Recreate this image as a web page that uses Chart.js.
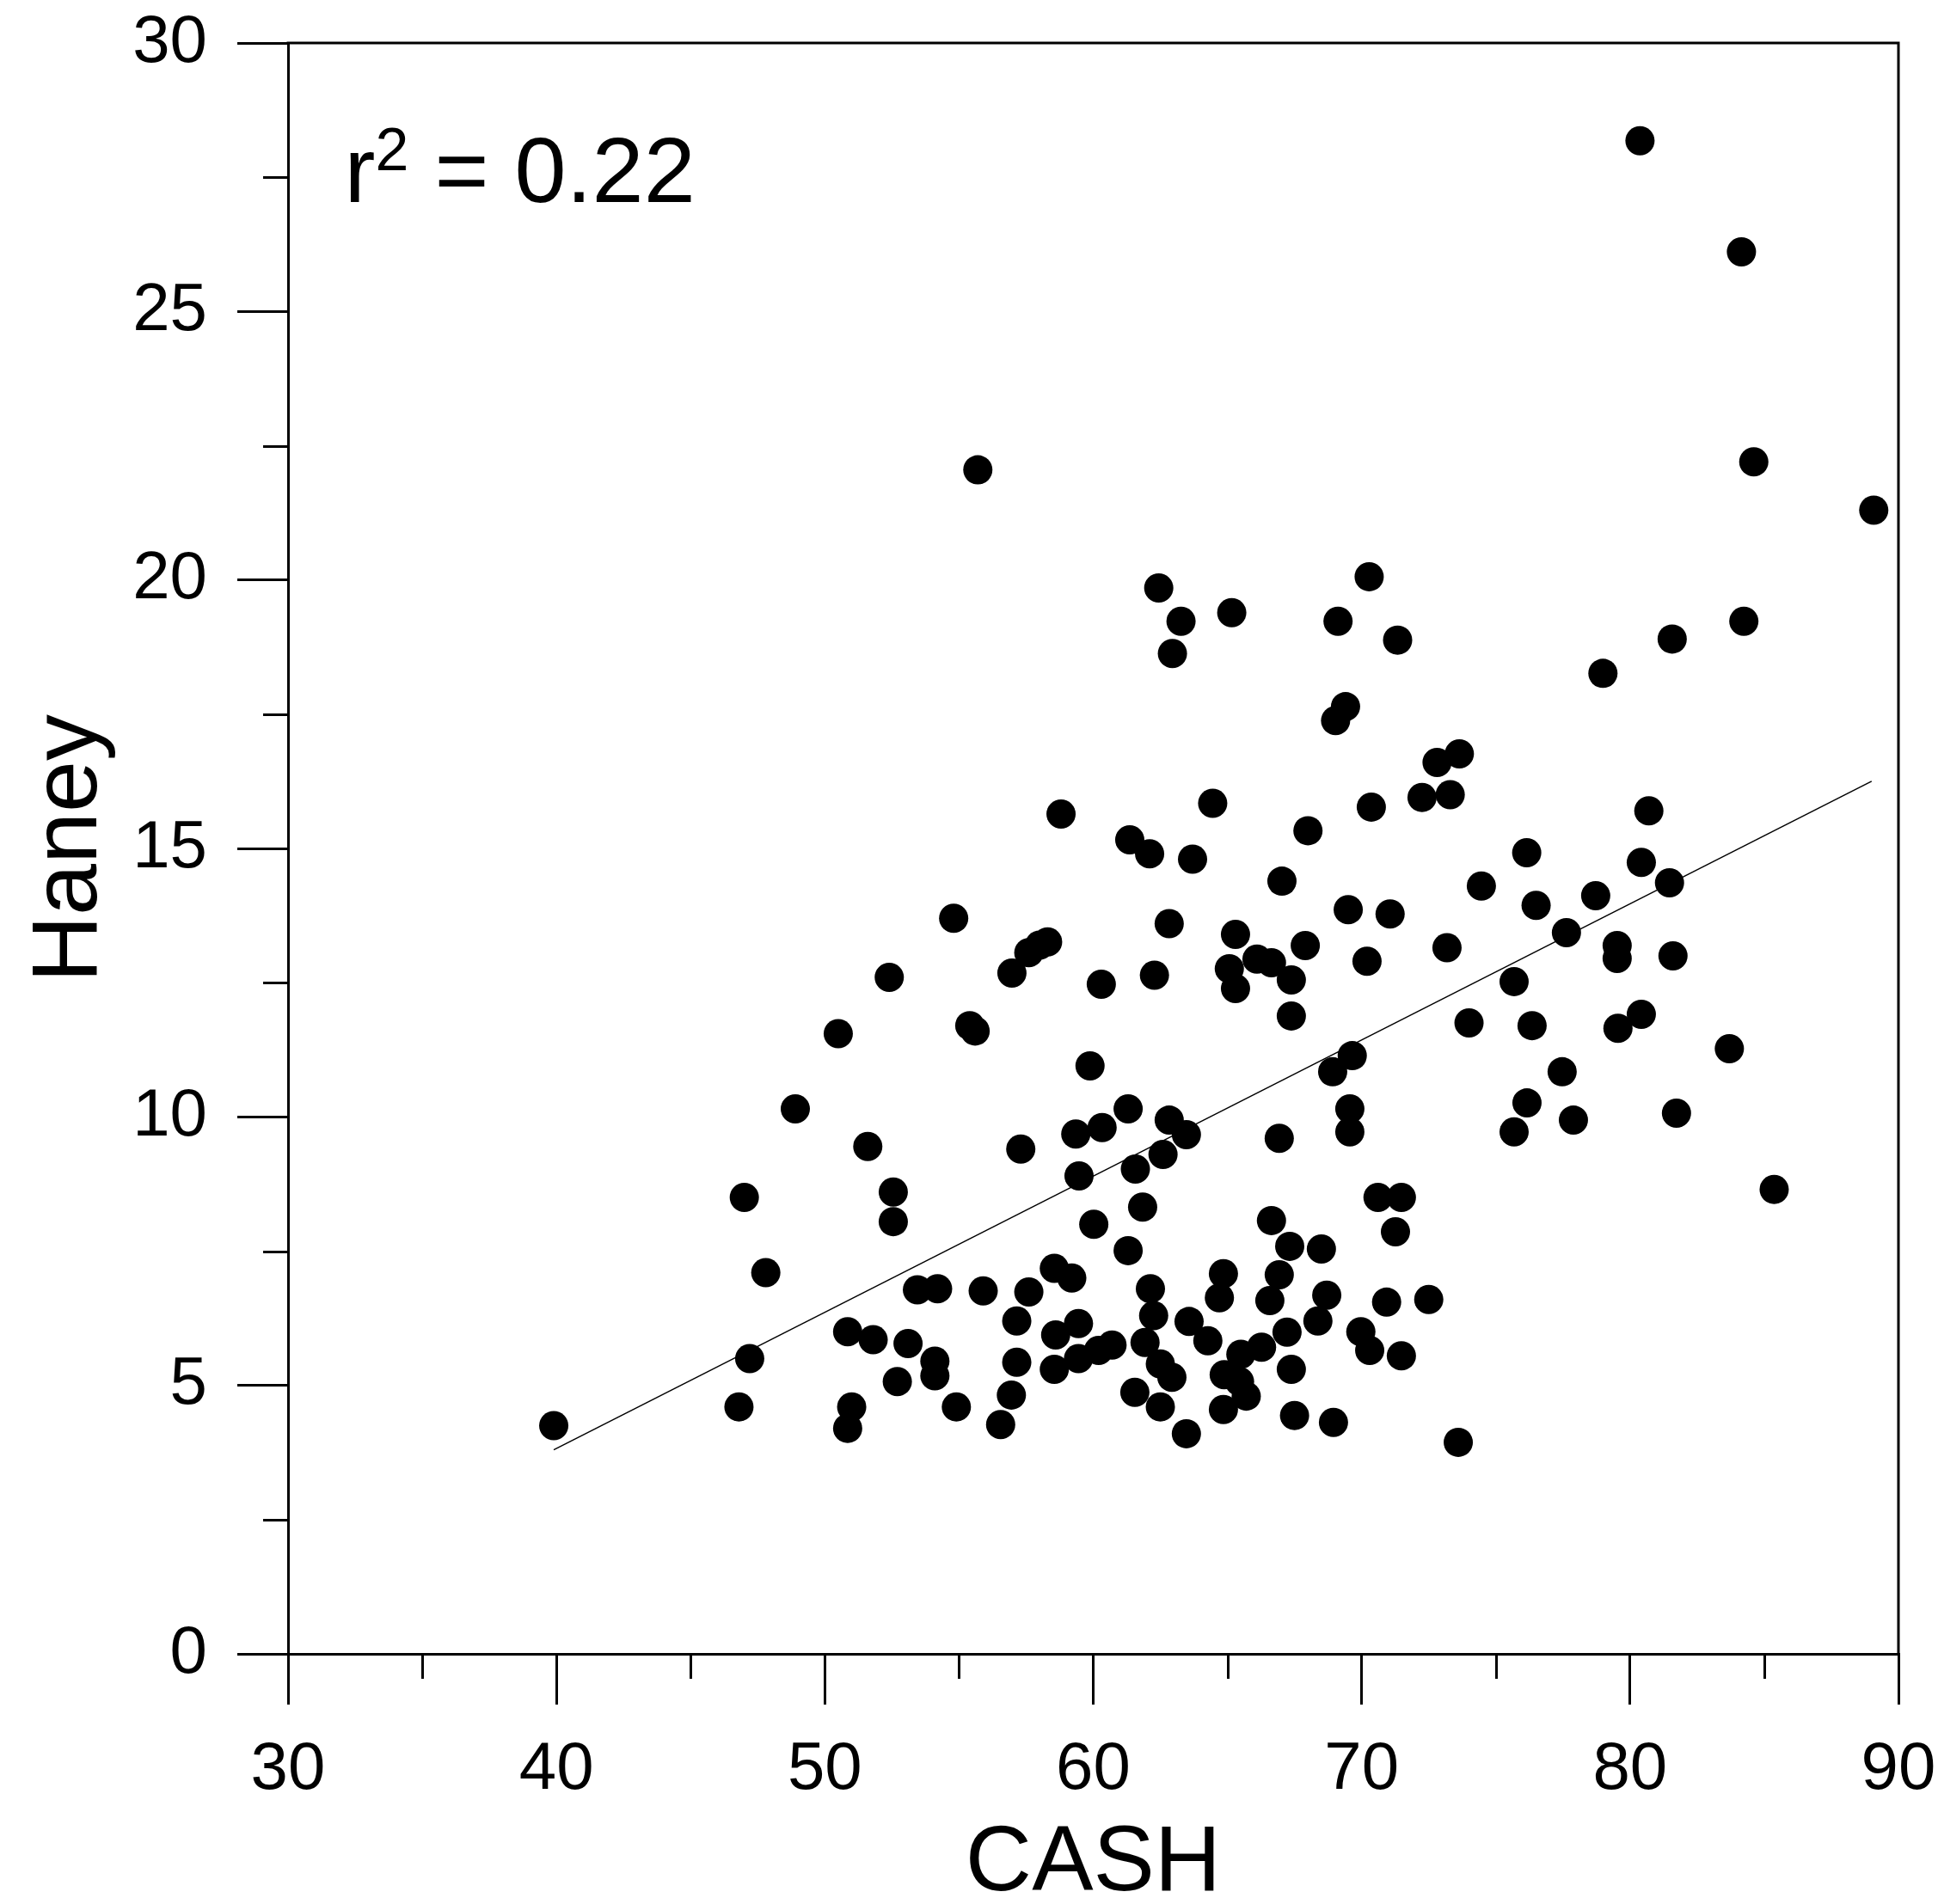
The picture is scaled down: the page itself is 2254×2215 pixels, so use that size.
<!DOCTYPE html>
<html>
<head>
<meta charset="utf-8">
<title>Haney vs CASH</title>
<script src="https://cdn.jsdelivr.net/npm/chart.js@4.4.1/dist/chart.umd.min.js"></script>
<style>
  html, body { margin: 0; padding: 0; background: #fff; }
  canvas { display: block; }
</style>
</head>
<body>
<canvas id="scatter" width="2254" height="2215"></canvas>
<script>
/* ---- data ---- */

var cashValues = [
  39.9, 46.8, 47.0, 47.2, 47.8, 48.9, 50.5, 50.85, 51.0, 50.85,
  51.6, 51.8, 52.4, 52.55, 52.55, 52.7, 53.1, 53.45, 54.2, 54.1,
  54.1, 54.8, 54.9, 55.4, 55.6, 55.7, 55.9, 56.55, 56.97, 56.95,
  57.15, 57.3, 57.15, 57.6, 57.6, 58.0, 58.3, 58.55, 58.55, 58.8,
  59.2, 58.6, 59.45, 59.35, 59.47, 59.45, 59.88, 60.02, 60.3, 60.33,
  60.2, 60.7, 61.3, 61.3, 61.36, 61.57, 61.55, 61.84, 62.1, 62.13,
  62.25, 61.93, 62.5, 62.28, 62.44, 62.6, 62.5, 62.83, 62.83, 62.95,
  62.93, 63.27, 63.47, 63.47, 63.57, 63.7, 64.27, 64.45, 65.07, 64.7,
  64.85, 64.88, 64.85, 65.16, 65.3, 65.3, 65.5, 65.45, 65.7, 66.1,
  66.27, 66.58, 66.64, 66.64, 66.93, 66.93, 67.03, 67.22, 67.38, 67.38,
  67.32, 67.38, 67.5, 67.9, 68.0, 68.5, 68.37, 68.7, 68.92, 68.95,
  69.03, 69.12, 69.4, 69.5, 69.65, 69.56, 69.56, 69.97, 70.2, 70.28,
  70.36, 70.3, 70.61, 70.93, 71.06, 71.34, 71.26, 71.48, 71.48, 72.5,
  72.25, 72.81, 73.18, 73.3, 73.64, 73.6, 74.0, 74.46, 75.68, 75.68,
  76.15, 76.16, 76.35, 76.5, 77.47, 77.63, 77.89, 78.72, 78.99, 79.55,
  79.52, 79.52, 80.37, 80.42, 80.42, 80.7, 81.47, 81.6, 81.57, 81.73,
  83.7, 84.15, 84.24, 84.61, 85.37, 89.08
];

var haneyValues = [
  4.25, 4.6, 8.5, 5.5, 7.1, 10.15, 11.55, 6.0, 4.6, 4.2,
  9.45, 5.85, 12.6, 8.6, 8.05, 5.07, 5.78, 6.78, 6.8, 5.45,
  5.18, 13.7, 4.6, 11.7, 11.6, 22.05, 6.76, 4.27, 12.68, 4.82,
  6.2, 9.4, 5.43, 6.74, 13.06, 13.2, 13.26, 7.18, 5.3, 15.64,
  7.0, 5.94, 6.15, 9.68, 8.9, 5.5, 10.95, 8.0, 12.47, 9.8,
  5.65, 5.75, 10.15, 7.51, 15.16, 9.03, 4.87, 8.32, 14.9, 6.8,
  6.3, 5.8, 5.4, 12.64, 19.85, 9.3, 4.6, 13.6, 9.94, 18.63,
  5.15, 19.23, 9.67, 4.1, 6.19, 14.8, 5.83, 15.84, 12.76, 6.63,
  7.08, 5.2, 4.55, 19.39, 12.39, 13.4, 5.58, 5.07, 4.8, 12.94,
  5.71, 6.58, 12.87, 8.07, 7.06, 9.6, 14.39, 5.99, 12.55, 5.3,
  7.59, 11.88, 4.44, 13.19, 15.33, 7.54, 6.2, 6.68, 10.84, 4.31,
  17.38, 19.23, 17.64, 13.86, 11.14, 10.15, 9.72, 6.0, 12.9, 20.06,
  15.77, 5.65, 8.5, 6.55, 13.78, 18.88, 7.86, 8.5, 5.55, 6.6,
  15.95, 16.6, 13.15, 16.0, 16.76, 3.94, 11.75, 14.3, 9.72, 12.52,
  14.92, 10.26, 11.7, 13.94, 10.84, 13.43, 9.94, 14.12, 18.26, 11.65,
  13.19, 12.95, 28.18, 11.91, 14.74, 15.7, 14.36, 13.0, 18.9, 10.07,
  11.27, 26.11, 19.23, 22.2, 8.65, 21.3
];

// end points of the fitted line
var fitCash  = [39.9, 89.0];
var fitHaney = [3.8, 16.25];

var r2Text = '0.22';

/* ---- helpers ---- */

var fontFamily = '"Liberation Sans", Arial, sans-serif';

function toPoints(xs, ys) {
  return xs.map(function (x, i) { return { x: x, y: ys[i] }; });
}

function isMajorX(v) { return v % 10 === 0; }
function isMajorY(v) { return v % 5 === 0; }

// fixed axis sizes, and no extra room for overhanging end labels
function fitX(s) {
  s.height = 291;
  s.paddingLeft = 0;
  s.paddingRight = 0;
}
function fitY(s) {
  s.width = 335;
  s.paddingTop = 0;
  s.paddingBottom = 0;
}

/* ---- plugins ---- */

// box around the plot plus the short minor ticks
var frameAndMinorTicks = {
  id: 'frameAndMinorTicks',
  afterDraw: function (chart) {
    var ctx = chart.ctx;
    var area = chart.chartArea;
    var xs = chart.scales.x;
    var ys = chart.scales.y;
    var minorLen = 29;

    ctx.save();
    ctx.strokeStyle = '#000';
    ctx.lineWidth = 3;
    ctx.lineCap = 'butt';

    ctx.beginPath();
    ctx.moveTo(area.left - 1.5, area.top);
    ctx.lineTo(area.right, area.top);
    ctx.lineTo(area.right, area.bottom + 1.5);
    ctx.stroke();

    ctx.beginPath();
    xs.ticks.forEach(function (t) {
      if (isMajorX(t.value)) return;
      var px = Math.round(xs.getPixelForValue(t.value)) + 0.5;
      ctx.moveTo(px, area.bottom);
      ctx.lineTo(px, area.bottom + minorLen);
    });
    ys.ticks.forEach(function (t) {
      if (isMajorY(t.value)) return;
      var py = Math.round(ys.getPixelForValue(t.value)) + 0.5;
      ctx.moveTo(area.left, py);
      ctx.lineTo(area.left - minorLen, py);
    });
    ctx.stroke();
    ctx.restore();
  }
};

// "r² = 0.22" in the upper left corner
var r2Label = {
  id: 'r2Label',
  afterDraw: function (chart) {
    var ctx = chart.ctx;
    var x = chart.scales.x.getPixelForValue(32.1);
    var base = chart.scales.y.getPixelForValue(27.04);

    ctx.save();
    ctx.fillStyle = '#000';
    ctx.textBaseline = 'alphabetic';
    ctx.textAlign = 'left';

    ctx.font = '108px ' + fontFamily;
    ctx.fillText('r', x, base);
    x += ctx.measureText('r').width;

    ctx.font = '70px ' + fontFamily;
    ctx.fillText('2', x, base - 37);
    x += ctx.measureText('2').width;

    ctx.font = '108px ' + fontFamily;
    ctx.fillText(' = ' + r2Text, x, base);
    ctx.restore();
  }
};

/* ---- chart ---- */

Chart.defaults.font.family = fontFamily;
Chart.defaults.color = '#000';

new Chart(document.getElementById('scatter'), {
  type: 'scatter',
  data: {
    datasets: [
      {
        label: 'Haney',
        data: toPoints(cashValues, haneyValues),
        pointRadius: 17,
        pointHoverRadius: 17,
        pointBackgroundColor: '#000',
        pointBorderWidth: 0,
        showLine: false
      },
      {
        label: 'fit',
        data: toPoints(fitCash, fitHaney),
        showLine: true,
        borderColor: '#000',
        borderWidth: 1.5,
        pointRadius: 0,
        fill: false
      }
    ]
  },
  plugins: [frameAndMinorTicks, r2Label],
  options: {
    responsive: false,
    animation: false,
    events: [],
    layout: { padding: { top: 50, right: 46, left: 0, bottom: 0 } },
    plugins: {
      legend: { display: false },
      tooltip: { enabled: false }
    },
    scales: {
      x: {
        type: 'linear',
        min: 30,
        max: 90,
        afterFit: fitX,
        ticks: {
          stepSize: 5,
          maxTicksLimit: 100,
          autoSkip: false,
          maxRotation: 0,
          padding: 30,
          color: '#000',
          font: { size: 78 },
          callback: function (v) { return isMajorX(v) ? String(v) : ''; }
        },
        grid: {
          drawOnChartArea: false,
          drawTicks: true,
          tickLength: 59,
          lineWidth: 3,
          tickWidth: 3,
          tickColor: function (c) {
            return c.tick && isMajorX(c.tick.value) ? '#000' : 'rgba(0,0,0,0)';
          }
        },
        border: { display: true, color: '#000', width: 3 },
        title: {
          display: true,
          text: 'CASH',
          color: '#000',
          font: { size: 107, lineHeight: 0.8 },
          padding: { top: 0, bottom: 3 }
        }
      },
      y: {
        type: 'linear',
        min: 0,
        max: 30,
        afterFit: fitY,
        ticks: {
          stepSize: 2.5,
          maxTicksLimit: 100,
          autoSkip: false,
          padding: 35,
          color: '#000',
          font: { size: 78 },
          callback: function (v) { return isMajorY(v) ? String(v) : ''; }
        },
        grid: {
          drawOnChartArea: false,
          drawTicks: true,
          tickLength: 59,
          lineWidth: 3,
          tickWidth: 3,
          tickColor: function (c) {
            return c.tick && isMajorY(c.tick.value) ? '#000' : 'rgba(0,0,0,0)';
          }
        },
        border: { display: true, color: '#000', width: 3 },
        title: {
          display: true,
          text: 'Haney',
          color: '#000',
          font: { size: 108, lineHeight: 1.2 },
          padding: { top: 17, bottom: 0 }
        }
      }
    }
  }
});
</script>
</body>
</html>
